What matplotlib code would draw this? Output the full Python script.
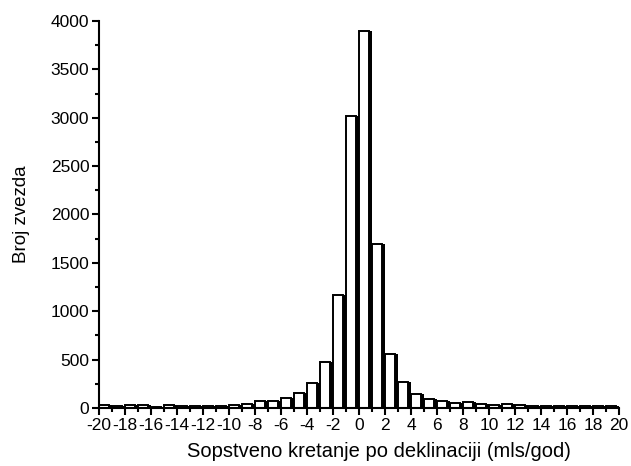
import numpy as np
import matplotlib
matplotlib.use("Agg")
import matplotlib.pyplot as plt
from matplotlib.ticker import MultipleLocator

plt.rcParams['font.family'] = ['Liberation Sans', 'DejaVu Sans']

bin_left = np.arange(-20, 20)
counts = [35, 25, 35, 30, 15, 30, 20, 20, 25, 25,
          30, 45, 70, 70, 100, 150, 260, 480, 1170, 3020,
          3900, 1700, 560, 265, 145, 90, 70, 50, 60, 45,
          35, 40, 30, 25, 25, 25, 25, 20, 25, 20]
xticks = np.arange(-20, 21, 2)
yticks = np.arange(0, 4001, 500)

fig = plt.figure(figsize=(6.31, 4.66), dpi=100)
ax = fig.add_axes([0.1569, 0.1245, 0.981 - 0.1569, 0.955 - 0.1245])

w = 0.78
shadow = 0.22
ax.bar(bin_left + shadow, counts, width=w, align='edge', color='black', linewidth=0, zorder=2)
ax.bar(bin_left, counts, width=w, align='edge', facecolor='white', edgecolor='black',
       linewidth=1.4, zorder=3)

ax.set_xlim(-20, 20)
ax.set_ylim(0, 4000)
ax.set_xticks(xticks)
ax.set_xticklabels([str(v) for v in xticks])
ax.set_yticks(yticks)
ax.xaxis.set_minor_locator(MultipleLocator(1))
ax.yaxis.set_minor_locator(MultipleLocator(250))
ax.spines['top'].set_visible(False)
ax.spines['right'].set_visible(False)
for s in ['left', 'bottom']:
    ax.spines[s].set_linewidth(1.5)
    ax.spines[s].set_zorder(5)
ax.tick_params(which='major', direction='out', length=5, width=1.5, labelsize=12.5, pad=2)
ax.tick_params(which='minor', direction='out', length=3, width=1.5)

ax.set_xlabel('Sopstveno kretanje po deklinaciji (mls/god)', fontsize=14.5, labelpad=7, x=0.538)
ax.set_ylabel('Broj zvezda', fontsize=13.5, labelpad=15)

fig.savefig('out.png', dpi=100)
